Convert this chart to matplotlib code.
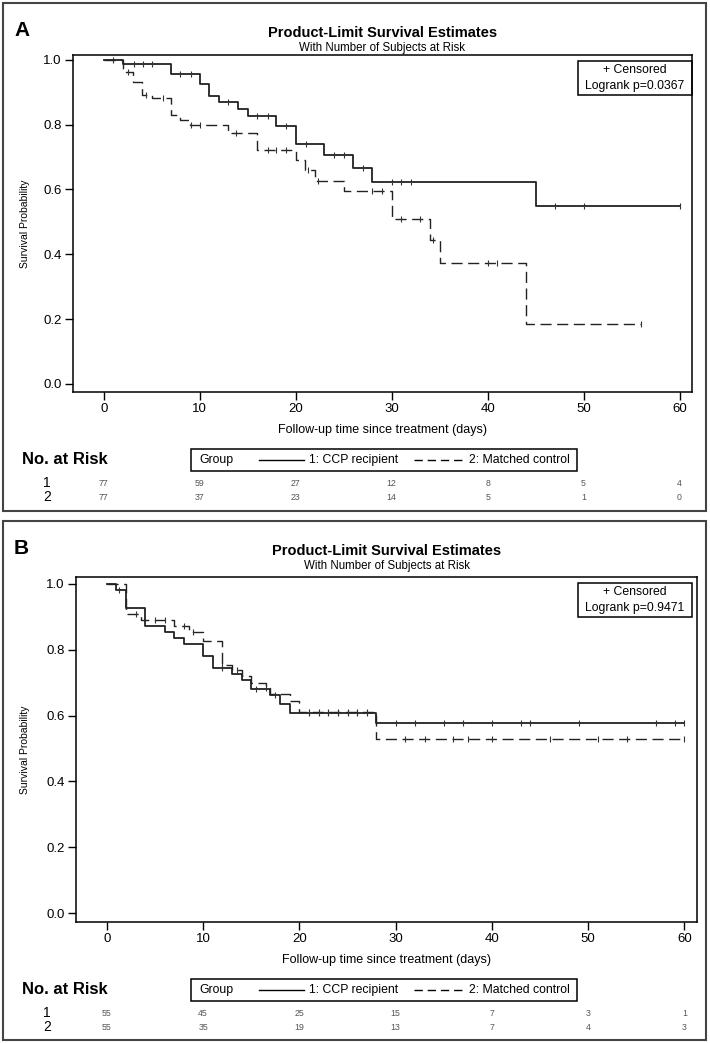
"""
Kaplan-Meier curves, two panels (A, B), with number-at-risk rows
"""
import numpy as np
import matplotlib
matplotlib.use("Agg")
import matplotlib.pyplot as plt
from matplotlib.patches import Rectangle
from matplotlib.lines import Line2D
from matplotlib.transforms import blended_transform_factory

plt.rcParams['font.family'] = ['Liberation Sans', 'DejaVu Sans']

W, H = 710, 1043

# ---- panel A data ----
a1_t = [0, 2, 7, 10, 11, 12, 14, 15, 18, 20, 23, 26, 28, 45, 60]
a1_s = [1.0, 0.987, 0.957, 0.926, 0.89, 0.871, 0.848, 0.828, 0.797, 0.741, 0.707, 0.667, 0.622, 0.548, 0.548]
a1_cens = [1, 3.2, 4.1, 5, 8, 9.1, 12.9, 16, 17.1, 19, 21.1, 24, 25, 27, 30, 31, 32, 47, 50, 60]

a2_t = [0, 2, 3, 4, 5, 7, 8, 9, 13, 16, 20, 21, 22, 25, 30, 34, 35, 44, 56]
a2_s = [1.0, 0.964, 0.933, 0.892, 0.882, 0.830, 0.815, 0.800, 0.774, 0.722, 0.691, 0.660, 0.627, 0.594,
        0.509, 0.444, 0.373, 0.184, 0.184]
a2_cens = [2.5, 4.4, 6.2, 9.1, 10, 13.8, 17.1, 18, 19, 21.3, 22.3, 28, 29, 31, 33, 34.3, 40, 41, 56]

a_risk1 = [77, 59, 27, 12, 8, 5, 4]
a_risk2 = [77, 37, 23, 14, 5, 1, 0]
a_pval = "Logrank p=0.0367"

# ---- panel B data ----
b1_t = [0, 1, 2, 4, 6, 7, 8, 10, 11, 13, 14, 15, 17, 18, 19, 28, 60]
b1_s = [1.0, 0.982, 0.927, 0.873, 0.855, 0.836, 0.818, 0.782, 0.745, 0.727, 0.709, 0.682, 0.664, 0.636,
        0.609, 0.577, 0.577]
b1_cens = [1.3, 12, 15.5, 17.5, 21, 22, 23, 24, 25, 26, 27, 30, 32, 35, 37, 40, 43, 44, 49, 57, 59, 60]

b2_t = [0, 2, 3.5, 7, 8.5, 10, 12, 13, 14, 15, 16.5, 17, 19, 20, 28, 60]
b2_s = [1.0, 0.909, 0.891, 0.871, 0.855, 0.827, 0.755, 0.74, 0.72, 0.70, 0.685, 0.665, 0.645, 0.612,
        0.53, 0.53]
b2_cens = [3, 5, 6, 8, 9, 12, 13.5, 16.5, 21, 22, 23, 24, 25, 26, 27, 31, 33, 36, 37.5, 40, 46, 51, 54, 60]

b_risk1 = [55, 45, 25, 15, 7, 3, 1]
b_risk2 = [55, 35, 19, 13, 7, 4, 3]
b_pval = "Logrank p=0.9471"

risk_days = [0, 10, 20, 30, 40, 50, 60]
y_ticks = [0.0, 0.2, 0.4, 0.6, 0.8, 1.0]

DASH = (0, (8, 4))


def fx(x):
    return x / W


def fy(y):
    return 1 - y / H


def surv_at(t, times, surv):
    i = np.searchsorted(times, t, side='right') - 1
    return np.array(surv)[i]


def draw_panel(fig, letter, top, ax_box, ylim, curves, risk1, risk2, pval):
    # outer frame
    fig.patches.append(Rectangle((fx(3), fy(top[1])), fx(703), top[1] / H - top[0] / H,
                                 transform=fig.transFigure, fill=False, ec='#444444', lw=1.5))
    y0 = top[0]
    fig.text(fx(14), fy(y0 + 27), letter, fontsize=15, fontweight='bold', va='center', ha='left')

    l, t, r, b = ax_box
    ax = fig.add_axes([fx(l), fy(b), (r - l) / W, (b - t) / H])
    cx = (l + r) / 2
    fig.text(fx(cx), fy(y0 + 30), "Product-Limit Survival Estimates", fontsize=10.5,
             fontweight='bold', ha='center', va='center')
    fig.text(fx(cx), fy(y0 + 45), "With Number of Subjects at Risk", fontsize=8.3,
             ha='center', va='center')

    for times, surv, cens, ls in curves:
        ax.step(times, surv, where='post', color='#222222', lw=1.3 if ls == '-' else 1.0, linestyle=ls)
        ax.plot(cens, surv_at(cens, times, surv), linestyle='none', marker='|', ms=5,
                mew=0.8, color='#333333')

    ax.set_xlim(-3.2, 61.3)
    ax.set_ylim(*ylim)
    ax.set_xticks(risk_days)
    ax.set_yticks(y_ticks)
    ax.set_yticklabels([f"{v:.1f}" for v in y_ticks])
    ax.tick_params(direction='out', length=6, width=1, labelsize=9.5, pad=2)
    for s in ax.spines.values():
        s.set_linewidth(1.1)

    fig.text(fx(25), fy((t + b) / 2), "Survival Probability", rotation=90, fontsize=7.5,
             ha='center', va='center')
    fig.text(fx(cx), fy(b + 38), "Follow-up time since treatment (days)", fontsize=9,
             ha='center', va='center')

    # censored / logrank box
    bx0, bx1 = 578, 692
    by0, by1 = t + 6, t + 40
    fig.patches.append(Rectangle((fx(bx0), fy(by1)), (bx1 - bx0) / W, (by1 - by0) / H,
                                 transform=fig.transFigure, fill=False, ec='black', lw=1.1))
    fig.text(fx((bx0 + bx1) / 2), fy(by0 + 9), "+ Censored", fontsize=8.8, ha='center', va='center')
    fig.text(fx((bx0 + bx1) / 2), fy(by0 + 25), pval, fontsize=8.8, ha='center', va='center')

    # risk table + legend
    ry = b + 68
    fig.text(fx(22), fy(ry), "No. at Risk", fontsize=12, fontweight='bold', ha='left', va='center')
    fig.patches.append(Rectangle((fx(191), fy(ry + 11)), (577 - 191) / W, 22 / H,
                                 transform=fig.transFigure, fill=False, ec='black', lw=1.1))
    fig.text(fx(199), fy(ry), "Group", fontsize=8.8, ha='left', va='center')
    fig.lines.append(Line2D([fx(259), fx(304)], [fy(ry), fy(ry)], transform=fig.transFigure,
                            color='black', lw=1))
    fig.text(fx(309), fy(ry), "1: CCP recipient", fontsize=8.8, ha='left', va='center')
    fig.lines.append(Line2D([fx(414), fx(462)], [fy(ry), fy(ry)], transform=fig.transFigure,
                            color='black', lw=1, linestyle=(0, (6, 3.5))))
    fig.text(fx(469), fy(ry), "2: Matched control", fontsize=8.8, ha='left', va='center')

    trans = blended_transform_factory(ax.transData, fig.transFigure)
    for row, (lab, vals) in enumerate([("1", risk1), ("2", risk2)]):
        yy = fy(ry + 23 + row * 14)
        fig.text(fx(47), yy, lab, fontsize=10, ha='center', va='center')
        for d, v in zip(risk_days, vals):
            ax.text(d, yy, str(v), transform=trans, fontsize=6.3, color='#555555',
                    ha='center', va='center')
    return ax


fig = plt.figure(figsize=(W / 100, H / 100), dpi=100)

draw_panel(fig, "A", (3, 511), (73, 55, 692, 392), (-0.025, 1.015),
           [(a1_t, a1_s, a1_cens, '-'), (a2_t, a2_s, a2_cens, DASH)],
           a_risk1, a_risk2, a_pval)
draw_panel(fig, "B", (521, 1040), (76, 577, 697, 922), (-0.027, 1.021),
           [(b1_t, b1_s, b1_cens, '-'), (b2_t, b2_s, b2_cens, DASH)],
           b_risk1, b_risk2, b_pval)

fig.savefig("out.png", dpi=100)
